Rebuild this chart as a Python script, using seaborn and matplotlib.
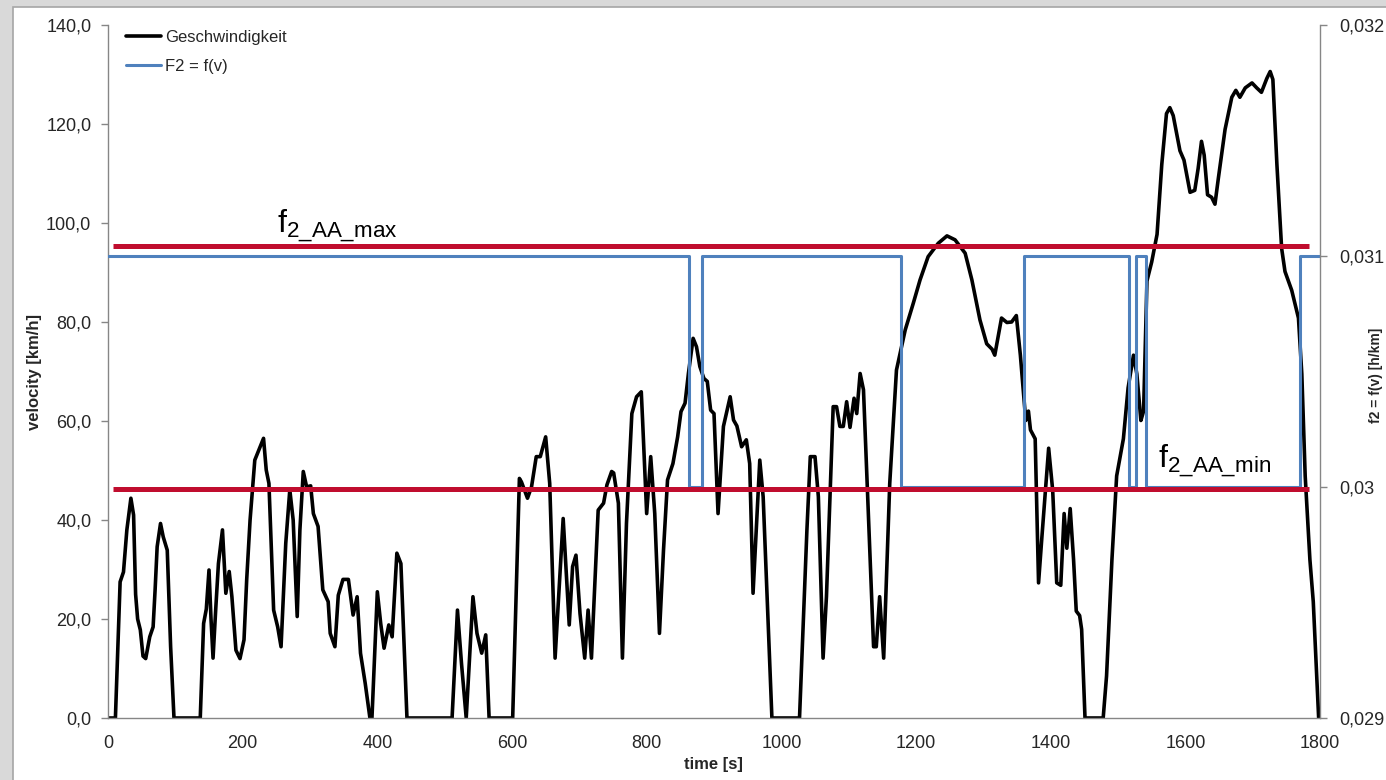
import matplotlib
matplotlib.use("Agg")
import matplotlib.pyplot as plt
import seaborn as sns
from matplotlib.lines import Line2D
from matplotlib.patches import Rectangle
from matplotlib.ticker import FuncFormatter

# velocity trace (time [s], velocity [km/h])
time_s = [0, 11, 18, 23, 28, 34, 38, 41, 44, 48, 52, 56, 62, 67, 70, 73, 78, 82, 88, 93,
          98, 137, 142, 146, 150, 153, 156, 160, 164, 170, 175, 180, 184, 190, 196, 202, 206,
          211, 218, 225, 231, 235, 239, 246, 252, 257, 264, 270, 275, 281, 285, 290, 295, 301,
          305, 312, 319, 327, 330, 337, 342, 349, 357, 364, 370, 375, 382, 389, 392, 400, 405,
          410, 417, 422, 429, 435, 444, 511, 519, 525, 532, 542, 548, 555, 561, 566, 601, 611,
          614, 623, 629, 636, 642, 650, 656, 664, 676, 685, 690, 695, 701, 708, 713, 718, 728,
          736, 741, 748, 751, 758, 764, 770, 778, 785, 792, 794, 800, 806, 812, 819, 825, 831,
          839, 846, 851, 857, 862, 869, 874, 879, 885, 890, 895, 900, 906, 914, 924, 929, 934,
          941, 948, 953, 958, 968, 973, 986, 1027, 1038, 1043, 1050, 1055, 1062, 1067, 1077,
          1082, 1087, 1092, 1097, 1102, 1108, 1112, 1117, 1122, 1137, 1141, 1146, 1152, 1161,
          1171, 1184, 1196, 1206, 1218, 1233, 1246, 1258, 1273, 1283, 1295, 1305, 1313, 1317,
          1327, 1335, 1342, 1349, 1355, 1363, 1367, 1370, 1377, 1382, 1387, 1397, 1403, 1409,
          1415, 1420, 1424, 1429, 1434, 1438, 1443, 1446, 1451, 1478, 1483, 1491, 1498, 1508,
          1515, 1523, 1528, 1534, 1538, 1543, 1550, 1558, 1565, 1572, 1577, 1582, 1592, 1598,
          1607, 1614, 1619, 1624, 1628, 1633, 1639, 1644, 1649, 1659, 1669, 1675, 1681, 1689,
          1699, 1706, 1713, 1721, 1726, 1730, 1736, 1743, 1748, 1758, 1768, 1773, 1778, 1785,
          1790, 1798, 1800]
speed_kmh = [0, 0, 27.5, 29.5, 38, 44.4, 41, 25, 20, 17.8, 12.5, 12, 16.4, 18.4, 26, 34.6, 39.3,
             36.6, 33.9, 14.4, 0, 0, 19.1, 22, 29.9, 20, 12.1, 22, 31.2, 38, 25.2, 29.6, 24.5,
             13.7, 12, 15.8, 28, 40, 52.1, 54.5, 56.5, 50.1, 47.4, 21.8, 18.4, 14.4, 35.3, 46.1,
             40, 20.5, 38, 49.8, 46.7, 46.9, 41.3, 38.7, 25.9, 23.5, 17.1, 14.4, 24.8, 28, 28,
             20.8, 24.5, 13.1, 7, 0, 0, 25.5, 19.1, 14.1, 18.8, 16.4, 33.3, 31.2, 0, 0, 21.8, 11,
             0, 24.5, 17.1, 13.1, 16.8, 0, 0, 48.4, 47.7, 44.4, 46.7, 52.8, 52.8, 56.8, 47.4,
             12.1, 40.3, 18.8, 30.6, 32.9, 21.1, 12.1, 21.8, 12.1, 42, 43.4, 47.1, 49.8, 49.5,
             43.4, 12.1, 39.3, 61.5, 64.9, 65.9, 60, 41.3, 52.8, 41.3, 17.1, 33.9, 48.1, 51.4,
             56.8, 61.9, 63.6, 69.6, 76.7, 75, 71, 68.6, 68, 62.2, 61.5, 41.3, 58.9, 64.9, 60.2,
             59, 54.8, 56.2, 51.4, 25.2, 52.1, 44.7, 0, 0, 38, 52.8, 52.8, 44.7, 12.1, 24.5, 62.9,
             62.9, 58.9, 58.9, 63.9, 58.7, 64.6, 61.5, 69.6, 66.3, 14.4, 14.4, 24.5, 12.1, 47.4,
             70.3, 78.4, 83.8, 88.5, 93.2, 95.9, 97.4, 96.6, 93.9, 88.5, 80.4, 75.6, 74.5, 73.3,
             80.8, 79.9, 80, 81.3, 73.3, 60.1, 62, 58.2, 56.4, 27.3, 36.6, 54.5, 46, 27.3, 26.8,
             41.3, 34.3, 42.3, 32, 21.6, 20.7, 17.9, 0, 0, 8.5, 32, 48.9, 56.4, 66.7, 73.3, 69.5,
             60.1, 62, 88.3, 92.1, 97.7, 111.8, 122.1, 123.3, 121.7, 114.6, 112.7, 106.2, 106.6,
             111, 116.5, 113.7, 105.7, 105.2, 103.8, 109, 118.9, 125.4, 126.8, 125.4, 127.3,
             128.3, 127.3, 126.4, 129.2, 130.6, 129, 111.8, 94.9, 90.2, 86.4, 80.8, 69.5, 48.9,
             32, 23.5, 0, 0]

# F2 = f(v) step signal (switch times [s], value)
f2_time = [0, 863, 882, 1177, 1360, 1517, 1527, 1541, 1771, 1800]
f2_value = [0.031, 0.030, 0.031, 0.030, 0.031, 0.030, 0.031, 0.030, 0.031, 0.031]

# limit lines (km/h on the left axis) and their extent in time
limit_names = ["2_AA_max", "2_AA_min"]
limit_kmh = [95.3, 46.3]
limit_span = [8, 1783]

sns.set_style("white")
plt.rcParams["font.family"] = ["Liberation Sans", "DejaVu Sans"]
plt.rcParams["mathtext.fontset"] = "custom"
plt.rcParams["mathtext.rm"] = "Liberation Sans"
plt.rcParams["mathtext.it"] = "Liberation Sans"

W, H = 1386, 780
fig = plt.figure(figsize=(W / 100, H / 100), dpi=100)
fig.patch.set_facecolor("#d9d9d9")
panel = Rectangle((13 / W, -0.01), 1.0, 1 - 7 / H + 0.01, transform=fig.transFigure,
                  facecolor="white", edgecolor="#a6a6a6", lw=1.2, zorder=-10)
fig.add_artist(panel)

ax = fig.add_axes([108 / W, 1 - 718 / H, 1212 / W, 693 / H])
ax.set_facecolor("none")
ax2 = ax.twinx()
ax2.set_facecolor("none")

grey = "#868686"
blue = "#4f81bd"
red = "#c00d2e"

sns.lineplot(x=time_s, y=speed_kmh, ax=ax, color="black", lw=2.6, estimator=None, sort=False,
             solid_joinstyle="round")
sns.lineplot(x=f2_time, y=f2_value, ax=ax2, color=blue, lw=2.2, estimator=None,
             drawstyle="steps-post")

for v in limit_kmh:
    ax2.plot(limit_span, [v, v], color=red, lw=3.6, transform=ax.transData, zorder=5,
             solid_capstyle="butt")

ax2.text(251, 98, r"f$_{\mathrm{" + limit_names[0].replace("_", r"\_") + "}}$", fontsize=23,
         transform=ax.transData, ha="left", va="baseline", zorder=6, color="black")
ax2.text(1560, 50.5, r"f$_{\mathrm{" + limit_names[1].replace("_", r"\_") + "}}$", fontsize=23,
         transform=ax.transData, ha="left", va="baseline", zorder=6, color="black")

ax.set_xlim(0, 1800)
ax.set_ylim(0, 140)
ax2.set_ylim(0.029, 0.032)
ax.set_xticks(range(0, 1801, 200))
ax.set_yticks(range(0, 141, 20))
ax2.set_yticks([0.029, 0.030, 0.031, 0.032])
ax.yaxis.set_major_formatter(FuncFormatter(lambda v, p: f"{v:.1f}".replace(".", ",")))
ax2.yaxis.set_major_formatter(FuncFormatter(lambda v, p: f"{round(v, 4):g}".replace(".", ",")))
ax.set_xlabel("")
ax.set_ylabel("")
ax2.set_ylabel("")

for a in (ax, ax2):
    for s in a.spines.values():
        s.set_color(grey)
        s.set_linewidth(1.0)
    a.spines["top"].set_visible(False)
ax.spines["right"].set_visible(False)
ax2.spines["left"].set_visible(False)
ax2.spines["bottom"].set_visible(False)

ax.tick_params(axis="both", direction="out", length=5, width=1, color=grey, labelsize=13,
               labelcolor="#262626", pad=7)
ax2.tick_params(axis="y", direction="out", length=5, width=1, color=grey, labelsize=13,
                labelcolor="#262626", pad=9)

handles = [Line2D([], [], color="black", lw=2.6), Line2D([], [], color=blue, lw=2.2)]
ax2.legend(handles, ["Geschwindigkeit", "F2 = f(v)"], loc="upper left",
           bbox_to_anchor=(126 / W, 1 - 30 / H), bbox_transform=fig.transFigure, frameon=False,
           fontsize=12, handlelength=2.1, handletextpad=0.25, labelspacing=0.85,
           borderpad=0, borderaxespad=0)

fig.text(35 / W, 1 - 372 / H, "velocity [km/h]", rotation=90, ha="center", va="center",
         fontsize=12, fontweight="bold", color="#262626")
fig.text(713 / W, 1 - 765 / H, "time [s]", ha="center", va="center", fontsize=12,
         fontweight="bold", color="#262626")
fig.text(1383 / W, 1 - 375 / H, "f2 = f(v) [h/km]", rotation=90, ha="right", va="center",
         fontsize=10, fontweight="bold", color="#262626")

fig.savefig("out.png", dpi=100, facecolor=fig.get_facecolor())
